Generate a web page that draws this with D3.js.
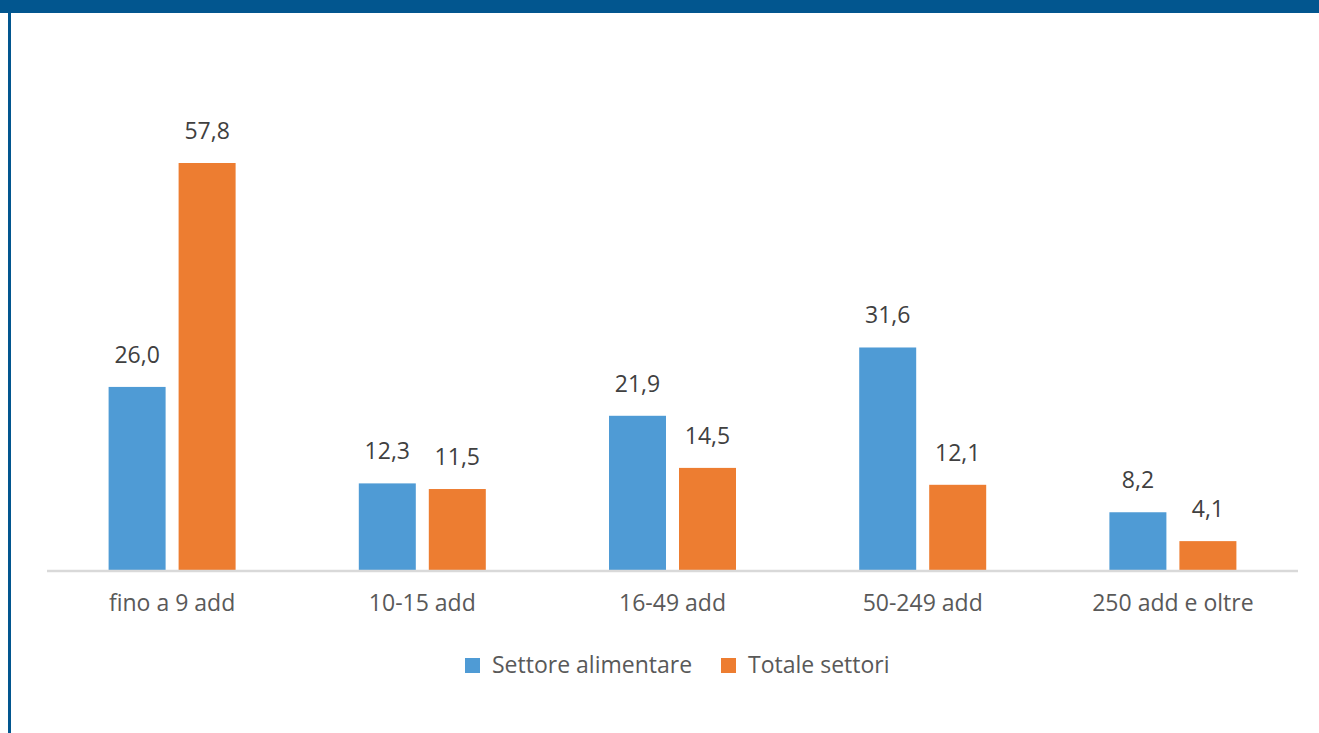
<!DOCTYPE html>
<html>
<head>
<meta charset="utf-8">
<script src="https://cdn.jsdelivr.net/npm/d3@7"></script>
<style>
  body { margin: 0; background: #fff; }
  svg { display: block; font-family: "Open Sans", "Noto Sans", sans-serif; }
</style>
</head>
<body>
<div id="chart"></div>
<script>
const categories = ['fino a 9 add', '10-15 add', '16-49 add', '50-249 add', '250 add e oltre'];
const seriesNames = ['Settore alimentare', 'Totale settori'];
const alimentare = [26.0, 12.3, 21.9, 31.6, 8.2];
const totale = [57.8, 11.5, 14.5, 12.1, 4.1];
const colors = ['#4f9bd5', '#ed7d31'];

const width = 1319;
const height = 733;

const svg = d3.select('#chart')
  .append('svg')
  .attr('width', width)
  .attr('height', height);

// frame: top band + left rule
svg.append('rect').attr('x', 0).attr('y', 0).attr('width', width).attr('height', 13).attr('fill', '#02568f');
svg.append('rect').attr('x', 8).attr('y', 0).attr('width', 3).attr('height', height).attr('fill', '#02568f');

const margin = { left: 47, right: 21, bottom: 570 };
const x0 = d3.scaleBand()
  .domain(categories)
  .range([margin.left, width - margin.right]);

// two bars of 57px with a 13px gap
const x1 = d3.scaleBand()
  .domain(seriesNames)
  .range([-63.5, 63.5])
  .paddingInner(13 / 70);

const y = d3.scaleLinear()
  .domain([0, 57.8])
  .range([margin.bottom, 163]);

const fmt = (v) => d3.format('.1f')(v).replace('.', ',');

const rows = categories.map((c, i) => ({ cat: c, values: [alimentare[i], totale[i]] }));

const groups = svg.selectAll('.group')
  .data(rows)
  .enter()
  .append('g')
  .attr('transform', (d) => `translate(${x0(d.cat) + x0.bandwidth() / 2},0)`);

groups.selectAll('rect')
  .data((d) => d.values.map((v, j) => ({ name: seriesNames[j], v, j })))
  .enter()
  .append('rect')
  .attr('x', (d) => x1(d.name))
  .attr('y', (d) => y(d.v))
  .attr('width', x1.bandwidth())
  .attr('height', (d) => y(0) - y(d.v))
  .attr('fill', (d) => colors[d.j]);

groups.selectAll('text')
  .data((d) => d.values.map((v, j) => ({ name: seriesNames[j], v, j })))
  .enter()
  .append('text')
  .attr('x', (d) => x1(d.name) + x1.bandwidth() / 2)
  .attr('y', (d) => y(d.v) - 24)
  .attr('text-anchor', 'middle')
  .attr('font-size', 23)
  .attr('fill', '#404040')
  .text((d) => fmt(d.v));

// x axis
svg.append('line')
  .attr('x1', margin.left).attr('x2', width - margin.right)
  .attr('y1', y(0) + 1).attr('y2', y(0) + 1)
  .attr('stroke', '#d9d9d9')
  .attr('stroke-width', 2.5);

svg.selectAll('.xlabel')
  .data(categories)
  .enter()
  .append('text')
  .attr('x', (d) => x0(d) + x0.bandwidth() / 2)
  .attr('y', 611)
  .attr('text-anchor', 'middle')
  .attr('font-size', 23)
  .attr('fill', '#595959')
  .text((d) => d);

// legend
const legendX = [465, 721];
const legend = svg.selectAll('.legend')
  .data(seriesNames)
  .enter()
  .append('g')
  .attr('transform', (d, i) => `translate(${legendX[i]},658)`);

legend.append('rect')
  .attr('width', 15).attr('height', 15)
  .attr('fill', (d, i) => colors[i]);

legend.append('text')
  .attr('x', 27)
  .attr('y', 15)
  .attr('font-size', 23)
  .attr('fill', '#595959')
  .text((d) => d);
</script>
</body>
</html>
